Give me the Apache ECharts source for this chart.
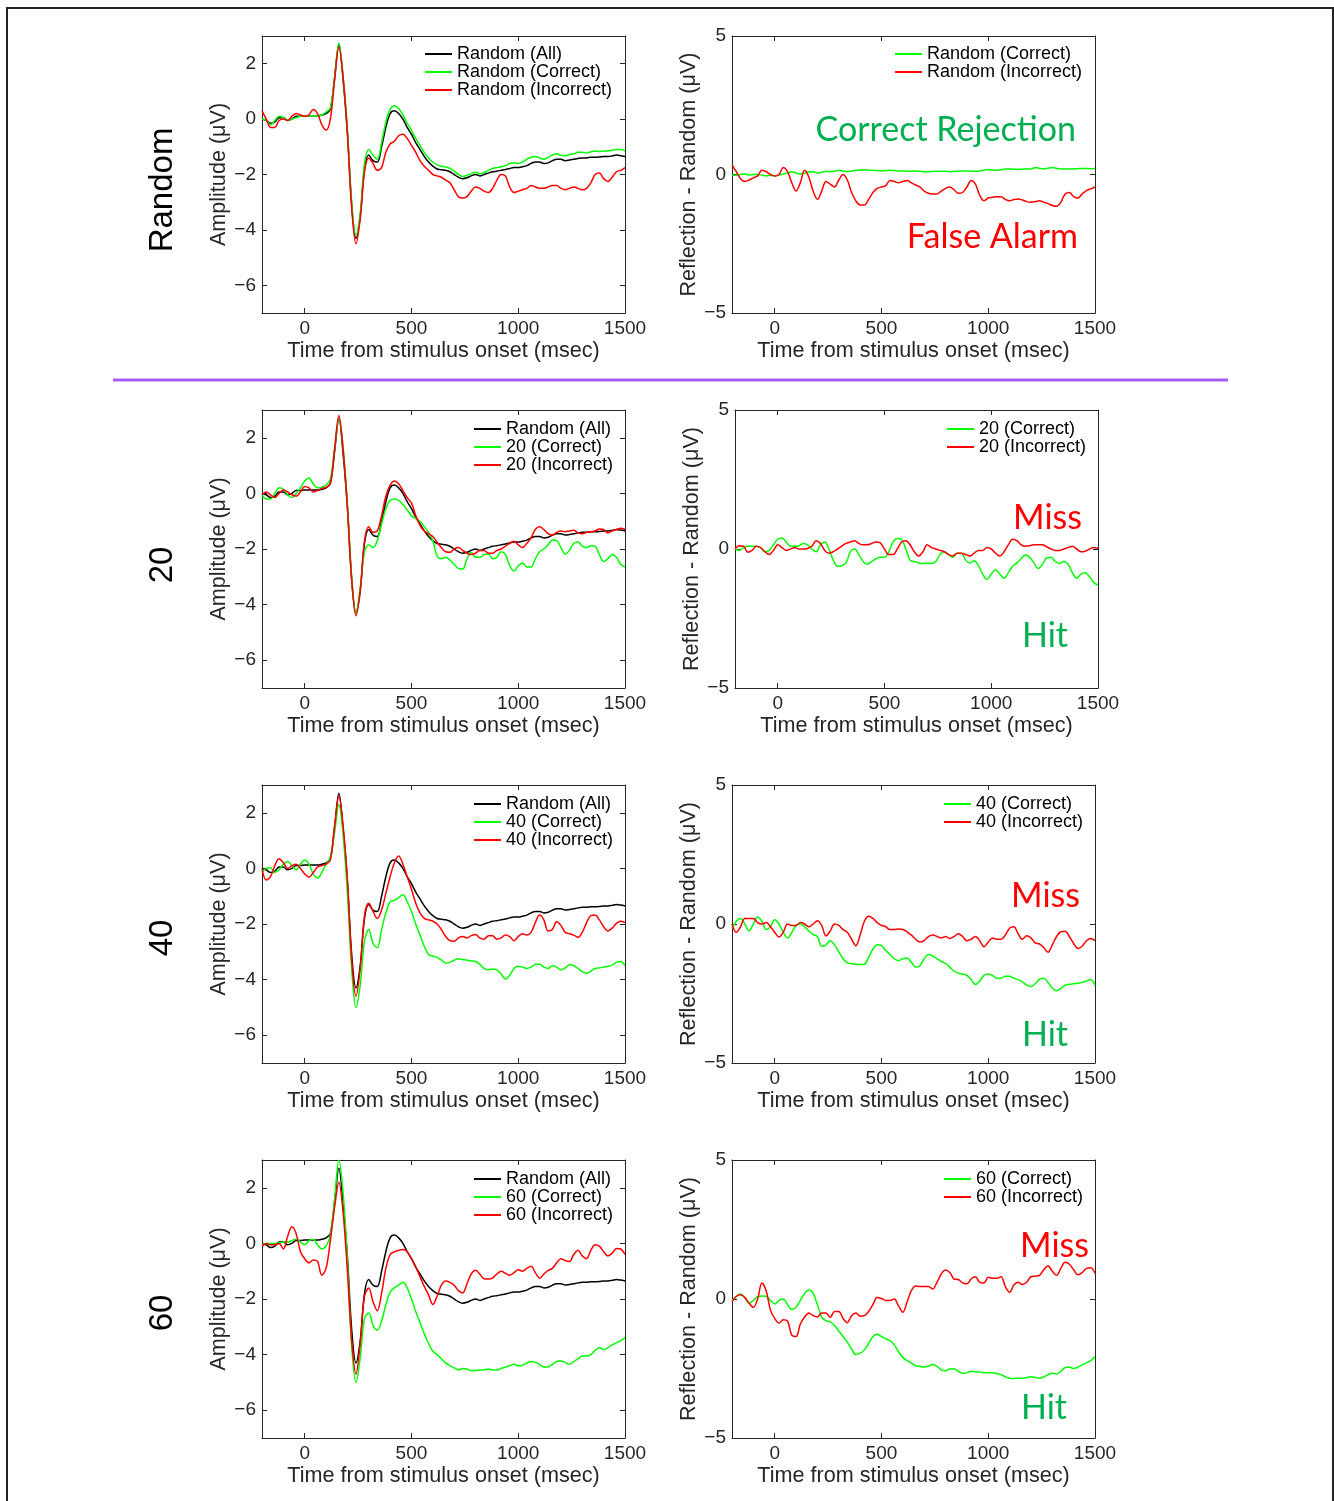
<!DOCTYPE html>
<html><head><meta charset="utf-8">
<script src="https://cdn.jsdelivr.net/npm/echarts@6/dist/echarts.min.js"></script>
<style>html,body{margin:0;padding:0;background:#fff}#c{width:1334px;height:1501px}</style>
</head><body><div id="c"></div>
<script>
// ---------- DATA ----------
const times = [
 -200,-180,-160,-140,-120,-100,-80,-60,-40,-20,
 0,20,40,60,80,100,120,140,160,180,
 200,220,240,260,280,300,320,340,360,380,
 400,420,440,460,480,500,520,540,560,580,
 600,620,640,660,680,700,720,740,760,780,
 800,820,840,860,880,900,920,940,960,980,
 1000,1020,1040,1060,1080,1100,1120,1140,1160,1180,
 1200,1220,1240,1260,1280,1300,1320,1340,1360,1380,
 1400,1420,1440,1460,1480,1500];
const xTicks = [0, 500, 1000, 1500];
const ampTicks = [-6, -4, -2, 0, 2];
const diffTicks = [-5, 0, 5];

const randomAll = [
 0.0,-0.05,-0.15,-0.1,0.05,0.05,-0.05,0.0,0.1,0.1,
 0.12,0.12,0.12,0.12,0.15,0.2,0.35,1.5,2.7,1.4,
 -0.5,-3.1,-4.3,-3.5,-1.8,-1.3,-1.5,-1.55,-1.0,-0.3,
 0.2,0.3,0.2,0.0,-0.3,-0.55,-0.85,-1.1,-1.35,-1.55,
 -1.7,-1.8,-1.83,-1.85,-1.9,-2.0,-2.1,-2.15,-2.12,-2.05,
 -2.0,-2.05,-2.0,-1.95,-1.9,-1.88,-1.85,-1.82,-1.78,-1.75,
 -1.75,-1.72,-1.68,-1.6,-1.55,-1.55,-1.6,-1.58,-1.5,-1.45,
 -1.45,-1.5,-1.48,-1.45,-1.42,-1.4,-1.4,-1.38,-1.38,-1.37,
 -1.35,-1.35,-1.33,-1.3,-1.32,-1.35];
const randomCorrect = [
 0.0,-0.05,-0.2,-0.05,0.1,0.05,-0.05,0.0,0.05,0.1,
 0.12,0.12,0.12,0.12,0.15,0.25,0.4,1.5,2.75,1.5,
 -0.4,-3.0,-4.2,-3.4,-1.6,-1.1,-1.3,-1.45,-0.85,-0.1,
 0.35,0.48,0.38,0.15,-0.15,-0.4,-0.7,-0.95,-1.2,-1.4,
 -1.55,-1.65,-1.7,-1.72,-1.78,-1.88,-2.0,-2.07,-2.03,-1.97,
 -1.92,-1.97,-1.93,-1.85,-1.78,-1.75,-1.73,-1.68,-1.6,-1.58,
 -1.6,-1.55,-1.45,-1.38,-1.35,-1.4,-1.45,-1.38,-1.3,-1.25,
 -1.3,-1.32,-1.28,-1.25,-1.2,-1.2,-1.22,-1.18,-1.15,-1.17,
 -1.15,-1.15,-1.12,-1.1,-1.1,-1.15];
const randomIncorrect = [
 0.3,0.0,-0.3,-0.3,-0.05,0.0,-0.05,0.1,0.2,0.15,
 0.1,0.15,0.35,0.2,-0.2,-0.4,0.0,1.4,2.6,1.5,
 -0.5,-3.2,-4.5,-3.6,-1.9,-1.4,-1.6,-1.85,-1.75,-1.2,
 -0.9,-0.8,-0.6,-0.55,-0.7,-0.95,-1.2,-1.5,-1.7,-1.85,
 -2.0,-2.05,-2.1,-2.2,-2.3,-2.55,-2.8,-2.85,-2.8,-2.6,
 -2.45,-2.5,-2.6,-2.65,-2.5,-2.2,-2.0,-2.05,-2.45,-2.65,
 -2.6,-2.55,-2.5,-2.4,-2.45,-2.5,-2.5,-2.45,-2.4,-2.4,
 -2.5,-2.55,-2.5,-2.45,-2.5,-2.55,-2.5,-2.3,-2.0,-1.95,
 -2.15,-2.25,-2.1,-1.9,-1.85,-1.75];
const correct20 = [
 -0.05,-0.2,-0.2,0.0,0.2,0.15,-0.05,-0.15,0.0,0.2,
 0.45,0.55,0.35,0.2,0.22,0.3,0.5,1.6,2.7,1.6,
 -0.4,-3.0,-4.3,-3.4,-2.1,-1.85,-1.95,-1.7,-1.1,-0.55,
 -0.25,-0.2,-0.25,-0.4,-0.6,-0.8,-0.9,-1.0,-1.2,-1.4,
 -1.7,-2.25,-2.35,-2.3,-2.4,-2.55,-2.7,-2.72,-2.35,-2.12,
 -2.3,-2.3,-2.2,-2.18,-2.35,-2.3,-2.1,-2.2,-2.6,-2.8,
 -2.6,-2.5,-2.65,-2.65,-2.35,-2.1,-2.0,-1.85,-1.68,-1.7,
 -1.95,-2.18,-2.05,-1.8,-1.75,-1.9,-1.95,-1.88,-1.9,-2.2,
 -2.45,-2.35,-2.2,-2.3,-2.55,-2.65];
const incorrect20 = [
 -0.05,0.05,-0.05,-0.15,0.0,0.12,0.05,-0.05,-0.1,0.05,
 0.25,0.2,0.05,0.1,0.18,0.22,0.35,1.6,2.8,1.6,
 -0.5,-3.1,-4.4,-3.5,-1.7,-1.2,-1.4,-1.35,-0.8,-0.1,
 0.3,0.45,0.35,0.1,-0.15,-0.35,-0.8,-1.15,-1.35,-1.45,
 -1.55,-1.75,-1.95,-2.1,-2.12,-2.0,-1.95,-2.05,-2.15,-2.2,
 -2.15,-2.05,-2.05,-2.15,-2.15,-2.05,-2.0,-1.9,-1.8,-1.72,
 -1.85,-1.95,-1.8,-1.6,-1.3,-1.2,-1.3,-1.45,-1.5,-1.4,
 -1.35,-1.38,-1.35,-1.33,-1.42,-1.45,-1.4,-1.38,-1.35,-1.28,
 -1.3,-1.42,-1.35,-1.3,-1.25,-1.3];
const correct40 = [
 -0.15,0.0,0.02,-0.15,-0.05,0.15,0.25,0.1,-0.05,0.15,
 0.3,0.15,-0.2,-0.35,-0.15,0.15,0.4,1.3,2.3,1.2,
 -0.9,-3.6,-5.0,-4.2,-2.6,-2.2,-2.7,-2.85,-2.2,-1.6,
 -1.2,-1.15,-1.05,-0.95,-1.2,-1.55,-2.0,-2.4,-2.8,-3.1,
 -3.15,-3.2,-3.3,-3.4,-3.38,-3.3,-3.25,-3.28,-3.3,-3.33,
 -3.35,-3.45,-3.6,-3.65,-3.62,-3.65,-3.8,-3.98,-3.85,-3.6,
 -3.52,-3.55,-3.6,-3.55,-3.45,-3.45,-3.55,-3.6,-3.5,-3.55,
 -3.65,-3.58,-3.47,-3.5,-3.6,-3.72,-3.77,-3.7,-3.6,-3.58,
 -3.55,-3.52,-3.48,-3.38,-3.35,-3.5];
const incorrect40 = [
 0.0,-0.42,-0.3,0.1,0.35,0.2,0.0,0.1,0.15,0.0,
 -0.2,-0.32,-0.15,0.05,0.1,0.15,0.3,1.5,2.6,1.5,
 -0.4,-3.3,-4.6,-3.6,-1.7,-1.25,-1.55,-1.8,-1.5,-0.9,
 -0.3,0.2,0.45,0.15,-0.3,-0.75,-1.25,-1.6,-1.8,-1.85,
 -1.9,-2.0,-2.2,-2.45,-2.6,-2.62,-2.5,-2.45,-2.5,-2.42,
 -2.38,-2.5,-2.55,-2.42,-2.42,-2.55,-2.5,-2.4,-2.45,-2.6,
 -2.45,-2.35,-2.4,-2.3,-1.95,-1.68,-1.85,-2.25,-2.2,-1.92,
 -2.05,-2.3,-2.35,-2.4,-2.48,-2.3,-1.95,-1.7,-1.68,-1.85,
 -2.1,-2.25,-2.15,-1.98,-1.9,-1.95];
const correct60 = [
 -0.05,0.0,0.0,0.0,0.02,0.05,0.05,0.1,0.15,0.05,
 -0.05,0.1,0.15,-0.05,-0.2,-0.1,0.3,1.6,3.0,1.8,
 -0.6,-3.7,-5.0,-4.1,-2.7,-2.5,-2.95,-3.12,-2.8,-2.2,
 -1.75,-1.6,-1.5,-1.4,-1.6,-2.0,-2.45,-2.85,-3.25,-3.6,
 -3.88,-4.0,-4.15,-4.3,-4.4,-4.48,-4.55,-4.5,-4.52,-4.58,
 -4.57,-4.55,-4.55,-4.52,-4.55,-4.55,-4.5,-4.45,-4.4,-4.35,
 -4.4,-4.38,-4.3,-4.25,-4.28,-4.35,-4.45,-4.45,-4.35,-4.25,
 -4.23,-4.28,-4.35,-4.25,-4.15,-4.05,-4.05,-4.0,-3.85,-3.75,
 -3.82,-3.75,-3.65,-3.58,-3.5,-3.38];
const incorrect60 = [
 -0.1,0.0,-0.05,-0.05,0.0,-0.2,0.25,0.6,0.35,-0.3,
 -0.55,-0.7,-0.6,-0.65,-1.15,-0.9,0.1,1.3,2.2,1.1,
 -1.0,-3.5,-4.7,-3.6,-1.9,-1.6,-2.1,-2.42,-1.8,-0.9,
 -0.4,-0.3,-0.25,-0.22,-0.3,-0.55,-0.85,-1.2,-1.55,-1.85,
 -2.2,-1.9,-1.5,-1.35,-1.4,-1.5,-1.7,-1.78,-1.45,-1.1,
 -0.97,-1.1,-1.27,-1.28,-1.25,-1.1,-1.0,-1.08,-1.15,-1.05,
 -0.95,-1.0,-0.9,-0.82,-1.05,-1.25,-1.1,-0.97,-0.9,-0.7,
 -0.55,-0.62,-0.65,-0.4,-0.25,-0.45,-0.55,-0.25,-0.05,-0.1,
 -0.3,-0.45,-0.35,-0.18,-0.2,-0.4];

const diffRandomCorrect = [
 -0.02,-0.03,0.0,0.02,-0.02,0.0,0.0,-0.02,-0.05,-0.03,
 -0.05,-0.02,0.02,0.05,0.1,0.05,0.02,0.05,0.1,0.1,
 0.05,0.08,0.12,0.1,0.12,0.15,0.12,0.1,0.12,0.15,
 0.15,0.17,0.15,0.15,0.14,0.13,0.14,0.15,0.14,0.13,
 0.13,0.12,0.12,0.13,0.12,0.1,0.1,0.11,0.12,0.12,
 0.12,0.1,0.11,0.12,0.13,0.13,0.12,0.12,0.13,0.16,
 0.18,0.16,0.15,0.17,0.2,0.2,0.19,0.18,0.19,0.2,
 0.2,0.25,0.22,0.2,0.23,0.25,0.22,0.2,0.2,0.2,
 0.2,0.21,0.22,0.22,0.21,0.22];
const diffRandomIncorrect = [
 0.35,0.1,-0.15,-0.25,-0.2,-0.12,-0.05,0.15,0.1,0.0,
 -0.05,0.0,0.25,0.1,-0.3,-0.6,-0.3,0.15,-0.1,-0.6,
 -0.9,-0.6,-0.25,-0.35,-0.45,-0.2,0.0,-0.2,-0.65,-0.95,
 -1.1,-1.1,-0.9,-0.65,-0.5,-0.45,-0.4,-0.22,-0.25,-0.3,
 -0.25,-0.22,-0.3,-0.38,-0.45,-0.6,-0.68,-0.7,-0.7,-0.6,
 -0.5,-0.45,-0.55,-0.68,-0.65,-0.45,-0.22,-0.35,-0.75,-0.95,
 -0.85,-0.82,-0.8,-0.8,-0.9,-0.95,-0.9,-0.88,-0.92,-0.98,
 -1.0,-0.98,-0.95,-1.0,-1.05,-1.12,-1.15,-1.0,-0.7,-0.65,
 -0.8,-0.85,-0.7,-0.58,-0.52,-0.45];
const diff20Correct = [
 0.0,-0.05,0.05,0.1,0.1,0.1,0.05,-0.1,-0.05,0.15,
 0.35,0.4,0.25,0.1,0.1,0.12,0.2,0.15,0.0,-0.1,
 0.15,0.25,0.0,-0.4,-0.62,-0.6,-0.5,-0.1,0.0,-0.2,
 -0.45,-0.55,-0.45,-0.35,-0.3,-0.3,-0.1,0.25,0.38,0.35,
 0.0,-0.4,-0.45,-0.5,-0.52,-0.5,-0.52,-0.45,-0.2,-0.1,
 -0.2,-0.3,-0.15,-0.15,-0.4,-0.5,-0.42,-0.6,-0.9,-1.1,
 -0.9,-0.75,-0.9,-1.05,-0.85,-0.62,-0.5,-0.35,-0.22,-0.3,
 -0.5,-0.7,-0.55,-0.32,-0.3,-0.45,-0.52,-0.45,-0.55,-0.85,
 -1.05,-0.9,-0.85,-1.0,-1.2,-1.3];
const diff20Incorrect = [
 0.0,0.12,0.1,-0.12,-0.05,0.1,0.05,-0.1,-0.2,-0.05,
 0.15,0.05,-0.05,0.0,0.05,0.0,0.0,0.02,0.1,0.3,
 0.2,-0.05,-0.15,-0.1,0.0,0.1,0.2,0.25,0.3,0.2,
 0.15,0.15,0.2,0.25,0.22,0.0,-0.2,-0.2,0.0,0.25,
 0.3,0.15,-0.1,-0.25,-0.1,0.15,0.05,0.0,-0.05,-0.1,
 -0.2,-0.25,-0.15,-0.15,-0.2,-0.25,-0.15,-0.05,-0.05,0.05,
 0.0,-0.15,-0.25,-0.1,0.15,0.35,0.3,0.15,0.1,0.12,
 0.15,0.15,0.15,0.08,0.0,-0.05,-0.05,0.0,0.05,0.1,
 0.0,-0.1,-0.08,0.0,0.05,0.02];
const diff40Correct = [
 -0.15,0.1,0.2,0.0,-0.25,0.0,0.25,0.1,-0.2,-0.1,
 0.15,0.0,-0.3,-0.5,-0.3,-0.05,0.0,-0.1,-0.25,-0.38,
 -0.45,-0.8,-0.75,-0.6,-0.75,-1.0,-1.25,-1.4,-1.43,-1.45,
 -1.46,-1.45,-1.2,-0.9,-0.75,-0.78,-0.95,-1.1,-1.25,-1.32,
 -1.25,-1.22,-1.38,-1.55,-1.5,-1.25,-1.1,-1.15,-1.25,-1.35,
 -1.42,-1.55,-1.7,-1.77,-1.8,-1.85,-2.0,-2.18,-2.05,-1.85,
 -1.8,-1.85,-1.95,-1.95,-1.88,-1.88,-1.95,-2.0,-2.08,-2.2,
 -2.25,-2.15,-1.98,-1.95,-2.1,-2.3,-2.4,-2.32,-2.2,-2.17,
 -2.15,-2.13,-2.1,-2.05,-2.0,-2.2];
const diff40Incorrect = [
 0.0,-0.3,-0.1,0.2,0.2,0.2,0.05,0.0,0.05,-0.1,
 -0.3,-0.47,-0.3,0.0,-0.05,-0.05,0.05,0.0,-0.1,0.0,
 0.12,-0.05,-0.43,-0.25,0.0,-0.05,-0.2,-0.3,-0.55,-0.78,
 -0.4,0.1,0.28,0.2,0.05,-0.05,-0.1,-0.2,-0.2,-0.18,
 -0.2,-0.28,-0.4,-0.55,-0.65,-0.6,-0.45,-0.4,-0.45,-0.5,
 -0.45,-0.52,-0.45,-0.35,-0.45,-0.6,-0.55,-0.45,-0.6,-0.82,
 -0.65,-0.5,-0.55,-0.55,-0.4,-0.15,-0.1,-0.35,-0.55,-0.42,
 -0.5,-0.68,-0.72,-0.85,-1.02,-0.75,-0.45,-0.28,-0.26,-0.45,
 -0.7,-0.88,-0.8,-0.6,-0.52,-0.6];
const diff60Correct = [
 -0.05,0.08,0.18,0.05,-0.15,-0.05,0.08,0.11,0.1,-0.05,
 -0.18,-0.05,0.0,-0.2,-0.38,-0.3,-0.05,0.2,0.32,0.2,
 -0.2,-0.65,-0.78,-0.82,-0.95,-1.15,-1.35,-1.55,-1.8,-2.0,
 -1.95,-1.83,-1.6,-1.35,-1.27,-1.35,-1.43,-1.5,-1.65,-1.9,
 -2.1,-2.22,-2.3,-2.4,-2.42,-2.45,-2.42,-2.36,-2.42,-2.55,
 -2.58,-2.52,-2.52,-2.6,-2.68,-2.65,-2.6,-2.62,-2.63,-2.65,
 -2.65,-2.65,-2.68,-2.72,-2.8,-2.85,-2.86,-2.85,-2.85,-2.82,
 -2.8,-2.82,-2.85,-2.8,-2.72,-2.67,-2.7,-2.6,-2.47,-2.45,
 -2.5,-2.45,-2.37,-2.3,-2.22,-2.07];
const diff60Incorrect = [
 -0.1,0.1,0.15,0.05,-0.15,-0.3,0.0,0.58,0.3,-0.4,
 -0.7,-0.87,-0.75,-0.8,-1.3,-1.35,-0.9,-0.65,-0.5,-0.6,
 -0.65,-0.5,-0.5,-0.66,-0.45,-0.45,-0.7,-0.85,-0.6,-0.5,
 -0.62,-0.6,-0.45,-0.2,0.05,0.02,-0.05,-0.05,0.0,-0.25,
 -0.48,-0.1,0.3,0.47,0.45,0.45,0.45,0.36,0.6,0.9,
 1.04,0.95,0.72,0.7,0.58,0.55,0.72,0.8,0.6,0.58,
 0.78,0.75,0.75,0.8,0.45,0.24,0.5,0.6,0.52,0.6,
 0.8,0.82,0.85,1.05,1.2,1.0,0.85,1.1,1.32,1.25,
 1.05,0.87,0.95,1.1,1.12,0.92];

// ---------- LAYOUT / STYLE ----------
const FONT = '"Liberation Sans", Arial, Helvetica, sans-serif';
const ANN = 'Lato, "Open Sans", sans-serif';
const BLACK = '#000000', GREEN = '#00ff00', RED = '#ff0000';
const AXC = '#262626';

const panels = [
 {g:[262,36,363,277], kind:'amp', lg:[425,45], s:[['Random (All)',randomAll,BLACK],['Random (Correct)',randomCorrect,GREEN],['Random (Incorrect)',randomIncorrect,RED]]},
 {g:[732,36,363,277], kind:'diff', lg:[895,45], s:[['Random (Correct)',diffRandomCorrect,GREEN],['Random (Incorrect)',diffRandomIncorrect,RED]]},
 {g:[262,410,363,278], kind:'amp', lg:[474,420], s:[['Random (All)',randomAll,BLACK],['20 (Correct)',correct20,GREEN],['20 (Incorrect)',incorrect20,RED]]},
 {g:[735,410,363,278], kind:'diff', lg:[947,420], s:[['20 (Correct)',diff20Correct,GREEN],['20 (Incorrect)',diff20Incorrect,RED]]},
 {g:[262,785,363,278], kind:'amp', lg:[474,795], s:[['Random (All)',randomAll,BLACK],['40 (Correct)',correct40,GREEN],['40 (Incorrect)',incorrect40,RED]]},
 {g:[732,785,363,278], kind:'diff', lg:[944,795], s:[['40 (Correct)',diff40Correct,GREEN],['40 (Incorrect)',diff40Incorrect,RED]]},
 {g:[262,1160,363,278], kind:'amp', lg:[474,1170], s:[['Random (All)',randomAll,BLACK],['60 (Correct)',correct60,GREEN],['60 (Incorrect)',incorrect60,RED]]},
 {g:[732,1160,363,278], kind:'diff', lg:[944,1170], s:[['60 (Correct)',diff60Correct,GREEN],['60 (Incorrect)',diff60Incorrect,RED]]}
];

const fmt = v => String(v).replace('-', '\u2212');
const grid = [], xAxis = [], yAxis = [], series = [], legend = [];

panels.forEach((p, k) => {
  grid.push({left:p.g[0], top:p.g[1], width:p.g[2], height:p.g[3], containLabel:false});
  const line = {show:true, onZero:false, lineStyle:{color:AXC, width:1}};
  const tick = vals => ({show:true, inside:true, length:5, customValues:vals, lineStyle:{color:AXC, width:1}});
  xAxis.push({type:'value', gridIndex:k, min:-200, max:1500, position:'bottom',
    axisLine:line, axisTick:tick(xTicks), splitLine:{show:false},
    axisLabel:{customValues:xTicks, fontSize:19, color:AXC, margin:6, fontFamily:FONT, formatter:fmt},
    name:'Time from stimulus onset (msec)', nameLocation:'middle', nameGap:27,
    nameTextStyle:{fontSize:21.6, color:AXC, fontFamily:FONT}});
  xAxis.push({type:'value', gridIndex:k, min:-200, max:1500, position:'top',
    axisLine:line, axisTick:tick(xTicks), splitLine:{show:false}, axisLabel:{show:false}});
  const amp = p.kind === 'amp';
  const yt = amp ? ampTicks : diffTicks;
  yAxis.push({type:'value', gridIndex:k, min: amp ? -7 : -5, max: amp ? 3 : 5, position:'left',
    axisLine:line, axisTick:tick(yt), splitLine:{show:false},
    axisLabel:{customValues:yt, fontSize:19, color:AXC, margin:6, fontFamily:FONT, formatter:fmt},
    name: amp ? 'Amplitude (\u03BCV)' : 'Reflection - Random (\u03BCV)', nameLocation:'middle', nameRotate:90,
    nameGap: amp ? 31 : 32, nameTextStyle:{fontSize:21.6, color:AXC, fontFamily:FONT}});
  yAxis.push({type:'value', gridIndex:k, min: amp ? -7 : -5, max: amp ? 3 : 5, position:'right',
    axisLine:line, axisTick:tick(yt), splitLine:{show:false}, axisLabel:{show:false}});
  p.s.forEach(([name, arr, color]) => {
    series.push({type:'line', name, xAxisIndex:2*k, yAxisIndex:2*k,
      data: times.map((t, i) => [t, arr[i]]), showSymbol:false, symbol:'none', smooth:0.35,
      lineStyle:{width:1.5, color}, itemStyle:{color}, animation:false, silent:true});
  });
  legend.push({left:p.lg[0], top:p.lg[1], orient:'vertical', itemGap:0, itemWidth:27, itemHeight:2,
    icon:'rect', padding:0, selectedMode:false, data:p.s.map(s => s[0]),
    textStyle:{fontSize:18, lineHeight:18, color:'#000', fontFamily:FONT}});
});

const rowLabel = (txt, y) => ({type:'text', x:163, y, rotation:Math.PI/2,
  style:{text:txt, fontSize:33, fontFamily:FONT, fill:'#000', textAlign:'center', textVerticalAlign:'middle'}});
const ann = (txt, x, y, color) => ({type:'text', x, y,
  style:{text:txt, fontSize:34, fontFamily:ANN, fill:color, textAlign:'right', textVerticalAlign:'middle'}});
const GT = '#00b050';

const graphic = [
  {type:'rect', shape:{x:7, y:8, width:1326, height:1520}, style:{fill:'none', stroke:'#222', lineWidth:2}, silent:true},
  {type:'line', shape:{x1:113, y1:380, x2:1228, y2:380}, style:{stroke:'#a55cf2', lineWidth:3}},
  rowLabel('Random', 190), rowLabel('20', 565), rowLabel('40', 938), rowLabel('60', 1313),
  ann('Correct Rejection', 1076, 130, GT), ann('False Alarm', 1078, 237, RED),
  ann('Miss', 1082, 518, RED), ann('Hit', 1068, 636, GT),
  ann('Miss', 1080, 896, RED), ann('Hit', 1068, 1035, GT),
  ann('Miss', 1089, 1246, RED), ann('Hit', 1067, 1408, GT)
];

const chart = echarts.init(document.getElementById('c'), null, {renderer:'canvas'});
chart.setOption({animation:false, backgroundColor:'#fff', grid, xAxis, yAxis, series, legend, graphic});
</script>
</body></html>
